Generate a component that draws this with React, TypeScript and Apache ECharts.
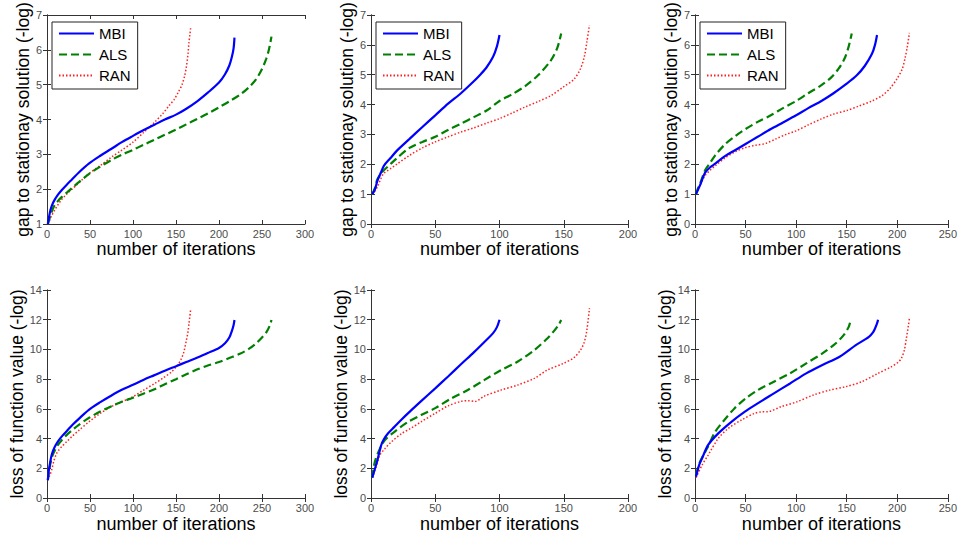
import React, { useEffect, useRef } from "react";
import * as echarts from "echarts";

const FONT = "'Liberation Sans', Arial, sans-serif";

const SERIES_NAMES = ["MBI", "ALS", "RAN"];
const X_NAME = "number of iterations";
const Y_NAME_TOP = "gap to stationay solution (-log)";
const Y_NAME_BOTTOM = "loss of function value (-log)";

// Panel 1 (top-left): gap to stationary solution
const P1_MBI = [[1,1.0],[2,1.15],[4,1.4],[6,1.55],[9,1.7],[13,1.85],[17,1.97],[23,2.13],[29,2.28],[37,2.48],[49,2.74],[62,2.96],[75,3.16],[87,3.35],[100,3.53],[112,3.69],[125,3.85],[137,4.0],[150,4.14],[162,4.31],[175,4.53],[187,4.77],[200,5.06],[207,5.3],[212,5.55],[215,5.8],[217,6.05],[218,6.35]];
const P1_ALS = [[1,1.0],[2,1.08],[5,1.32],[9,1.55],[13,1.67],[17,1.77],[23,1.9],[29,2.03],[37,2.2],[49,2.44],[62,2.65],[75,2.84],[87,2.99],[100,3.13],[112,3.27],[125,3.42],[137,3.56],[150,3.71],[162,3.86],[175,4.02],[187,4.17],[200,4.35],[212,4.52],[225,4.72],[235,4.93],[243,5.15],[250,5.45],[255,5.75],[258,6.0],[261,6.38]];
const P1_RAN = [[1,1.0],[3,1.1],[5,1.22],[9,1.4],[13,1.56],[17,1.7],[23,1.86],[29,2.0],[37,2.18],[49,2.45],[62,2.68],[75,2.92],[87,3.12],[100,3.35],[112,3.62],[125,3.92],[135,4.18],[142,4.4],[148,4.58],[153,4.8],[157,5.0],[160,5.25],[162,5.5],[164,5.9],[165,6.2],[166,6.4],[167,6.62]];

// Panel 2 (top-middle)
const P2_MBI = [[1,1.0],[3,1.15],[5,1.45],[8,1.75],[10,1.95],[15,2.2],[20,2.45],[30,2.85],[40,3.25],[50,3.64],[60,4.03],[70,4.38],[80,4.78],[85,5.0],[90,5.25],[95,5.6],[98,5.95],[100,6.33]];
const P2_ALS = [[1,1.0],[3,1.2],[5,1.5],[8,1.7],[10,1.8],[15,2.0],[20,2.2],[30,2.55],[40,2.75],[50,2.92],[60,3.15],[70,3.36],[80,3.58],[90,3.8],[100,4.12],[110,4.35],[120,4.62],[130,4.98],[140,5.48],[145,5.9],[148,6.38]];
const P2_RAN = [[1,1.0],[3,1.1],[5,1.25],[8,1.55],[10,1.7],[15,1.85],[20,2.0],[30,2.3],[40,2.55],[50,2.75],[60,2.92],[70,3.08],[80,3.22],[90,3.38],[100,3.53],[110,3.72],[120,3.92],[130,4.1],[140,4.3],[150,4.6],[158,4.85],[163,5.2],[166,5.6],[168,6.1],[170,6.66]];

// Panel 3 (top-right)
const P3_MBI = [[1,1.0],[3,1.15],[5,1.3],[10,1.72],[15,1.9],[20,2.02],[30,2.28],[40,2.48],[50,2.68],[62,2.92],[75,3.18],[87,3.4],[100,3.64],[112,3.88],[125,4.12],[137,4.38],[150,4.7],[160,4.98],[168,5.3],[175,5.7],[178,6.0],[180,6.33]];
const P3_ALS = [[1,1.0],[3,1.2],[5,1.35],[10,1.8],[15,2.05],[20,2.3],[30,2.68],[40,2.95],[50,3.18],[62,3.42],[75,3.64],[87,3.88],[100,4.12],[112,4.38],[125,4.65],[135,4.92],[142,5.2],[148,5.55],[152,5.95],[155,6.38]];
const P3_RAN = [[1,1.0],[3,1.15],[5,1.3],[10,1.62],[15,1.8],[20,1.95],[30,2.22],[40,2.42],[50,2.56],[60,2.64],[70,2.7],[80,2.85],[90,3.0],[100,3.12],[112,3.32],[125,3.52],[137,3.68],[150,3.8],[162,3.95],[175,4.12],[185,4.3],[193,4.55],[200,4.88],[205,5.2],[208,5.6],[210,5.95],[212,6.4]];

// Panel 4 (bottom-left): loss of function value
const P4_MBI = [[1,1.2],[2,1.8],[3.5,2.33],[5,2.8],[7.4,3.23],[10,3.55],[13.2,3.85],[18,4.2],[24.8,4.62],[30,4.95],[37,5.33],[49,5.95],[62,6.45],[75,6.9],[87,7.28],[100,7.62],[112,7.95],[125,8.27],[137,8.57],[150,8.87],[162,9.15],[175,9.45],[187,9.76],[200,10.1],[207,10.42],[212,10.8],[215,11.25],[217,11.65],[218,11.98]];
const P4_ALS = [[1,1.2],[2,1.7],[3.5,2.2],[6,2.8],[9.3,3.23],[13,3.6],[17,3.88],[23,4.25],[29,4.55],[37,4.92],[49,5.4],[62,5.82],[75,6.18],[87,6.48],[100,6.75],[112,7.02],[125,7.32],[137,7.65],[150,8.0],[162,8.33],[175,8.66],[187,8.92],[200,9.15],[212,9.42],[225,9.72],[235,10.05],[243,10.4],[250,10.8],[255,11.15],[259,11.6],[261,11.98]];
const P4_RAN = [[1,1.2],[3,1.5],[5.4,1.88],[8,2.5],[11.2,3.0],[14,3.25],[17,3.45],[23,3.8],[29,4.14],[37,4.55],[49,5.14],[62,5.7],[75,6.15],[87,6.48],[100,6.82],[112,7.25],[125,7.7],[135,8.08],[145,8.5],[152,8.95],[156,9.35],[159,9.8],[162,10.6],[164,11.2],[165,11.7],[167,12.66]];

// Panel 5 (bottom-middle)
const P5_MBI = [[1,1.37],[3,1.95],[5,2.55],[8,3.57],[10,3.95],[13,4.33],[18,4.77],[24,5.3],[31,5.88],[39,6.52],[50,7.38],[60,8.18],[70,9.0],[80,9.8],[90,10.65],[95,11.1],[98,11.5],[100,12.0]];
const P5_ALS = [[1,1.37],[3,2.44],[7,3.34],[11,3.92],[18,4.44],[29,5.13],[39,5.58],[50,6.05],[62,6.68],[75,7.25],[88,7.93],[101,8.6],[114,9.17],[127,9.95],[137,10.72],[142,11.2],[146,11.65],[148,11.98]];
const P5_RAN = [[1,1.37],[4,2.1],[7,2.9],[11,3.34],[16,3.79],[24,4.35],[31,4.69],[39,5.13],[50,5.7],[60,6.2],[70,6.5],[76,6.55],[81,6.5],[88,6.85],[101,7.26],[114,7.6],[127,8.05],[137,8.6],[150,9.07],[158,9.45],[163,9.95],[166,10.5],[168,11.3],[170,12.77]];

// Panel 6 (bottom-right)
const P6_MBI = [[1,1.43],[4,2.2],[7,2.67],[13,3.57],[23,4.35],[36,5.13],[49,5.8],[62,6.37],[78,7.04],[94,7.71],[110,8.39],[126,8.95],[143,9.51],[159,10.29],[172,10.85],[176,11.15],[178,11.41],[180,11.75],[181,12.0]];
const P6_ALS = [[1,1.55],[5,2.44],[12,3.34],[20,4.46],[29,5.25],[39,6.03],[50,6.7],[62,7.26],[78,7.83],[94,8.39],[110,9.06],[126,9.73],[139,10.4],[147,10.96],[152,11.52],[154,12.0]];
const P6_RAN = [[1,1.37],[7,2.22],[13,2.89],[23,4.01],[33,4.69],[46,5.25],[59,5.7],[66,5.8],[72,5.81],[85,6.14],[101,6.48],[117,6.93],[133,7.26],[149,7.49],[165,7.83],[181,8.39],[194,8.83],[201,9.15],[204,9.39],[207,9.96],[209,10.74],[211,11.6],[212,12.09]];

// Axis ranges per panel
const X_MAX = [300, 200, 250, 300, 200, 250];
const Y_MIN = [1, 0, 0, 0, 0, 0];
const Y_MAX = [7, 7, 7, 14, 14, 14];
const Y_STEP = [1, 1, 1, 2, 2, 2];
const PANEL_DATA = [
  [P1_MBI, P1_ALS, P1_RAN],
  [P2_MBI, P2_ALS, P2_RAN],
  [P3_MBI, P3_ALS, P3_RAN],
  [P4_MBI, P4_ALS, P4_RAN],
  [P5_MBI, P5_ALS, P5_RAN],
  [P6_MBI, P6_ALS, P6_RAN],
];

const LAYOUT = [
  { left: 47, top: 15, width: 258, height: 209 },
  { left: 371, top: 15, width: 257, height: 209 },
  { left: 695, top: 15, width: 258, height: 209 },
  { left: 47, top: 290, width: 258, height: 208 },
  { left: 371, top: 290, width: 257, height: 208 },
  { left: 695, top: 290, width: 258, height: 208 },
];

const LINE_STYLES = [
  { color: "#0000ff", width: 2.2, type: "solid" as any },
  { color: "#008000", width: 2.2, type: [8, 4] as any },
  { color: "#ff2020", width: 1.5, type: [1.5, 2] as any },
];

const AXIS_COLOR = "#333333";
const LABEL_COLOR = "#4d4d4d";

function buildOption() {
  const grid: any[] = [];
  const xAxis: any[] = [];
  const yAxis: any[] = [];
  const series: any[] = [];
  const legend: any[] = [];

  LAYOUT.forEach((g, i) => {
    grid.push({ ...g, containLabel: false, show: false });
    const xBase = {
      type: "value",
      gridIndex: i,
      min: 0,
      max: X_MAX[i],
      interval: 50,
      splitLine: { show: false },
      axisLine: { show: true, lineStyle: { color: AXIS_COLOR, width: 1 } },
      axisTick: { show: true, inside: true, length: 4, lineStyle: { color: AXIS_COLOR } },
    };
    const yBase = {
      type: "value",
      gridIndex: i,
      min: Y_MIN[i],
      max: Y_MAX[i],
      interval: Y_STEP[i],
      splitLine: { show: false },
      axisLine: { show: true, lineStyle: { color: AXIS_COLOR, width: 1 } },
      axisTick: { show: true, inside: true, length: 4, lineStyle: { color: AXIS_COLOR } },
    };
    const row = i < 3 ? 0 : 1;
    xAxis.push({
      ...xBase,
      position: "bottom",
      axisLabel: { show: true, color: LABEL_COLOR, fontSize: 11, fontFamily: FONT, margin: 4 },
      name: X_NAME,
      nameLocation: "middle",
      nameGap: row === 0 ? 14 : 17,
      nameTextStyle: { color: "#000", fontSize: 18, fontFamily: FONT },
    });
    xAxis.push({
      ...xBase,
      position: "top",
      axisLabel: { show: false },
    });
    yAxis.push({
      ...yBase,
      position: "left",
      axisLabel: { show: true, color: LABEL_COLOR, fontSize: 11, fontFamily: FONT, margin: 5 },
      name: row === 0 ? Y_NAME_TOP : Y_NAME_BOTTOM,
      nameLocation: "middle",
      nameGap: 15,
      nameTextStyle: { color: "#000", fontSize: 17.5, fontFamily: FONT },
    });
    yAxis.push({
      ...yBase,
      position: "right",
      axisLabel: { show: false },
    });

    PANEL_DATA[i].forEach((data, k) => {
      series.push({
        type: "line",
        name: SERIES_NAMES[k],
        xAxisIndex: i * 2,
        yAxisIndex: i * 2,
        data,
        symbol: "none",
        showSymbol: false,
        smooth: 0.3,
        lineStyle: LINE_STYLES[k],
        itemStyle: { color: LINE_STYLES[k].color },
        z: 3 - k,
      });
    });

    if (row === 0) {
      legend.push({
        data: SERIES_NAMES,
        orient: "vertical",
        left: g.left + 5,
        top: 22,
        itemWidth: 35,
        itemHeight: 14,
        itemGap: 6,
        padding: [4, 7, 6, 6],
        borderColor: "#222",
        borderWidth: 1,
        backgroundColor: "#fff",
        selectedMode: false,
        itemStyle: { opacity: 0, borderWidth: 0 },
        textStyle: { color: "#000", fontSize: 15, fontFamily: FONT },
      });
    }
  });

  return {
    animation: false,
    backgroundColor: "#fff",
    textStyle: { fontFamily: FONT },
    grid,
    xAxis,
    yAxis,
    legend,
    series,
  };
}

export default function App() {
  const ref = useRef<HTMLDivElement>(null);
  useEffect(() => {
    if (!ref.current) return;
    const chart = echarts.init(ref.current, null, { renderer: "svg" });
    chart.setOption(buildOption() as any);
    return () => chart.dispose();
  }, []);
  return (
    <div
      ref={ref}
      style={{ position: "fixed", left: 0, top: 0, width: 960, height: 540, background: "#fff" }}
    />
  );
}
